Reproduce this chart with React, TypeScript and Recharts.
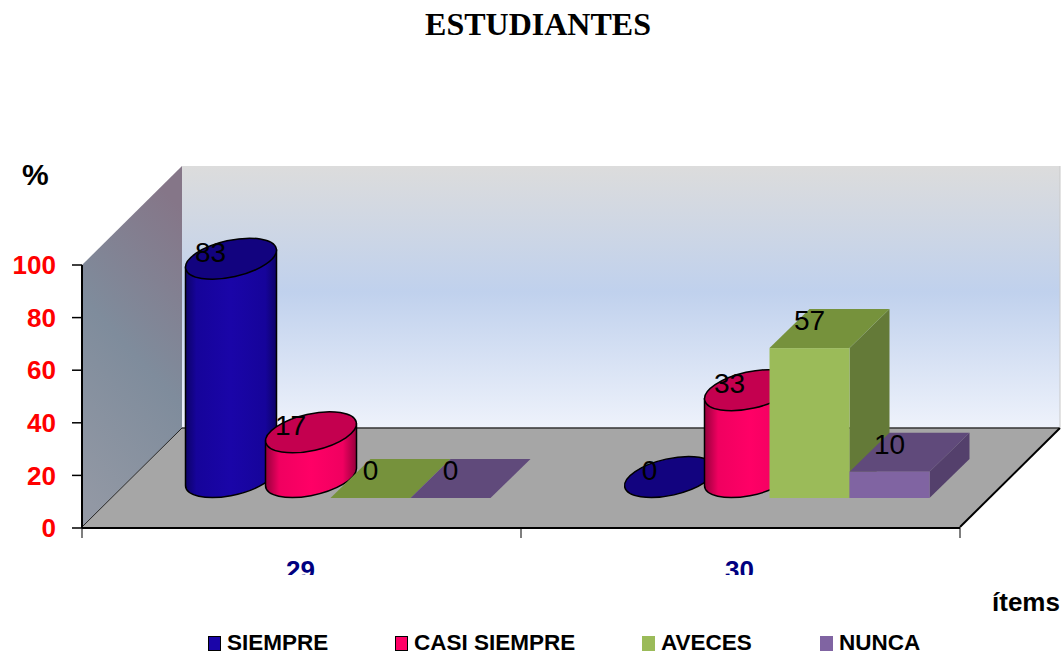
import { BarChart, Bar, XAxis, YAxis, Legend, LabelList } from 'recharts'

const items = ['29', '30']
const siempre = [83, 0]
const casiSiempre = [17, 33]
const aveces = [0, 57]
const nunca = [0, 10]
const yTicks = [0, 20, 40, 60, 80, 100]
const legendStarts = [208, 395, 642, 820]

const data = items.map((item, i) => ({
  item,
  siempre: siempre[i],
  casiSiempre: casiSiempre[i],
  aveces: aveces[i],
  nunca: nunca[i],
}))

const SANS = '"Liberation Sans", Arial, sans-serif'

// the bars stand part way back on the floor, not on its front edge
const FLOOR_DX = 44.5
const FLOOR_DY = -30
const BOX_DX = -16
const DEPTH_X = 40
const DEPTH_Y = -39

// tilted ellipse used for cylinder caps
const CAP_A = 46.4
const CAP_B = 18.3
const CAP_ROT = -12.6
const CAP_HALF_W = 45.5
const CAP_TILT = 8.5

function Cylinder(props: any) {
  const { x, y, height, body, top } = props
  const cx = x + FLOOR_DX + 44.5
  const capY = y + FLOOR_DY - 21
  const baseY = capY + height
  const l = cx - CAP_HALF_W
  const r = cx + CAP_HALF_W
  return (
    <g stroke="#000" strokeWidth={1.5}>
      {height > 0 && (
        <path
          d={`M${l},${capY + CAP_TILT} L${l},${baseY + CAP_TILT} A${CAP_A} ${CAP_B} ${CAP_ROT} 0 0 ${r},${baseY - CAP_TILT} L${r},${capY - CAP_TILT} Z`}
          fill={body}
        />
      )}
      <ellipse cx={cx} cy={capY} rx={CAP_A} ry={CAP_B} fill={top} transform={`rotate(${CAP_ROT} ${cx} ${capY})`} />
    </g>
  )
}

function Box(props: any) {
  const { x, y, width, height, front, top, side } = props
  const left = x + FLOOR_DX + BOX_DX
  const right = left + width
  const t = y + FLOOR_DY
  const b = t + height
  return (
    <g>
      <path
        d={`M${right},${t} L${right + DEPTH_X},${t + DEPTH_Y} L${right + DEPTH_X},${b + DEPTH_Y} L${right},${b} Z`}
        fill={side}
      />
      <path
        d={`M${left},${t} L${left + DEPTH_X},${t + DEPTH_Y} L${right + DEPTH_X},${t + DEPTH_Y} L${right},${t} Z`}
        fill={top}
      />
      <rect x={left} y={t} width={width} height={height} fill={front} />
    </g>
  )
}

function ValueLabel(props: any) {
  const { x, y, value } = props
  return (
    <text
      x={x + FLOOR_DX + 24}
      y={y + FLOOR_DY - 18}
      textAnchor="middle"
      fontFamily={SANS}
      fontSize={28}
      fill="#000"
    >
      {value}
    </text>
  )
}

function ItemTick(props: any) {
  const { x, y, payload } = props
  const id = `tick-clip-${payload.value}`
  return (
    <g>
      <clipPath id={id}>
        <rect x={x - 40} y={y} width={80} height={575 - y} />
      </clipPath>
      <text
        x={x - 1}
        y={578.5}
        textAnchor="middle"
        fontFamily={SANS}
        fontWeight="bold"
        fontSize={26}
        fill="#000080"
        clipPath={`url(#${id})`}
      >
        {payload.value}
      </text>
    </g>
  )
}

function LegendRow(props: any) {
  const { payload } = props
  return (
    <div style={{ position: 'relative', width: 1064, height: 30 }}>
      {(payload || []).map((entry: any, i: number) => (
        <div
          key={entry.value}
          style={{
            position: 'absolute',
            left: legendStarts[i],
            top: 0,
            display: 'flex',
            alignItems: 'center',
            height: 30,
            fontFamily: SANS,
            fontWeight: 'bold',
            fontSize: 22.5,
            color: '#000',
            whiteSpace: 'nowrap',
          }}
        >
          <span
            style={{
              display: 'inline-block',
              boxSizing: 'border-box',
              width: 13,
              height: 15,
              marginRight: 6,
              background: entry.color,
              border: i < 2 ? '1.5px solid #000' : 'none',
            }}
          />
          {entry.value}
        </div>
      ))}
    </div>
  )
}

// walls, floor and loose captions sit behind the transparent chart
function Backdrop() {
  return (
    <svg width={1064} height={653} style={{ position: 'absolute', left: 0, top: 0 }}>
      <defs>
        <linearGradient id="backWall" x1="0" y1="0" x2="0" y2="1">
          <stop offset="0" stopColor="#dcdcdc" />
          <stop offset="0.48" stopColor="#c0d1ed" />
          <stop offset="1" stopColor="#eef2fb" />
        </linearGradient>
        <linearGradient id="sideWall" x1="0.6" y1="0" x2="0.3" y2="1">
          <stop offset="0" stopColor="#857688" />
          <stop offset="0.5" stopColor="#7f8c9c" />
          <stop offset="1" stopColor="#9298a4" />
        </linearGradient>
      </defs>
      <rect x={182} y={166} width={878} height={262} fill="url(#backWall)" />
      <path d="M82,265 L182,166 L182,428 L82,527 Z" fill="url(#sideWall)" />
      <path d="M82,527 L182,428 L1060,428 L960,527 Z" fill="#a6a6a6" />
      <path d="M82,527 L182,428" stroke="#222" strokeWidth={1} fill="none" />
      <path d="M182,428 L1060,428" stroke="#333" strokeWidth={1.5} fill="none" />
      <path d="M960,527 L1060,428" stroke="#000" strokeWidth={2} fill="none" />
      <path d="M1060,166 L1060,428" stroke="#c8c8c8" strokeWidth={1} fill="none" />
      <path d="M82,527 L82,538 M521,527 L521,538 M960,527 L960,538" stroke="#555" strokeWidth={1.5} fill="none" />
      <text x={538} y={35} textAnchor="middle" fontFamily='"Liberation Serif", serif' fontWeight="bold" fontSize={32} fill="#000">
        ESTUDIANTES
      </text>
      <text x={22} y={185} fontFamily={SANS} fontWeight="bold" fontSize={30} fill="#000">
        %
      </text>
      <text x={992} y={611} fontFamily={SANS} fontWeight="bold" fontSize={26} fill="#000">
        ítems
      </text>
    </svg>
  )
}

export default function App() {
  return (
    <div style={{ position: 'absolute', left: 0, top: 0, width: 1064, height: 653, background: '#fff' }}>
      <Backdrop />
      <div style={{ position: 'absolute', left: 0, top: 0 }}>
        <BarChart
          width={1064}
          height={653}
          data={data}
          barSize={80}
          barGap={0}
          margin={{ top: 265, right: 104, bottom: 65, left: 0 }}
        >
          <defs>
            <linearGradient id="blueBody" x1="0" y1="0" x2="1" y2="0">
              <stop offset="0" stopColor="#0d0268" />
              <stop offset="0.12" stopColor="#16049a" />
              <stop offset="0.5" stopColor="#1a05a8" />
              <stop offset="0.88" stopColor="#16049a" />
              <stop offset="1" stopColor="#0d0268" />
            </linearGradient>
            <linearGradient id="pinkBody" x1="0" y1="0" x2="1" y2="0">
              <stop offset="0" stopColor="#96003c" />
              <stop offset="0.15" stopColor="#f00060" />
              <stop offset="0.5" stopColor="#ff0066" />
              <stop offset="0.85" stopColor="#f00060" />
              <stop offset="1" stopColor="#96003c" />
            </linearGradient>
          </defs>
          <XAxis
            dataKey="item"
            height={30}
            axisLine={{ stroke: '#000', strokeWidth: 2 }}
            tickLine={false}
            tick={<ItemTick />}
            interval={0}
          />
          <YAxis
            width={82}
            domain={[0, 100]}
            ticks={yTicks}
            tickSize={10}
            tickMargin={16}
            axisLine={{ stroke: '#000', strokeWidth: 2 }}
            tickLine={{ stroke: '#000', strokeWidth: 1.5 }}
            tick={{ fontFamily: SANS, fontWeight: 'bold', fontSize: 26, fill: '#ff0000' }}
          />
          <Legend
            content={<LegendRow />}
            height={30}
            itemSorter={null}
            wrapperStyle={{ top: 628, left: 0, bottom: 'auto', width: 1064 }}
          />
          <Bar
            dataKey="siempre"
            name="SIEMPRE"
            fill="#1a05a8"
            isAnimationActive={false}
            shape={(p: any) => <Cylinder {...p} body="url(#blueBody)" top="#12037f" />}
          >
            <LabelList dataKey="siempre" content={<ValueLabel />} />
          </Bar>
          <Bar
            dataKey="casiSiempre"
            name="CASI SIEMPRE"
            fill="#ff0066"
            isAnimationActive={false}
            shape={(p: any) => <Cylinder {...p} body="url(#pinkBody)" top="#c4004f" />}
          >
            <LabelList dataKey="casiSiempre" content={<ValueLabel />} />
          </Bar>
          <Bar
            dataKey="aveces"
            name="AVECES"
            fill="#9bbb59"
            isAnimationActive={false}
            shape={(p: any) => <Box {...p} front="#9bbb59" top="#76923c" side="#647a38" />}
          >
            <LabelList dataKey="aveces" content={<ValueLabel />} />
          </Bar>
          <Bar
            dataKey="nunca"
            name="NUNCA"
            fill="#8064a2"
            isAnimationActive={false}
            shape={(p: any) => <Box {...p} front="#8064a2" top="#604a7b" side="#54406c" />}
          >
            <LabelList dataKey="nunca" content={<ValueLabel />} />
          </Bar>
        </BarChart>
      </div>
    </div>
  )
}
